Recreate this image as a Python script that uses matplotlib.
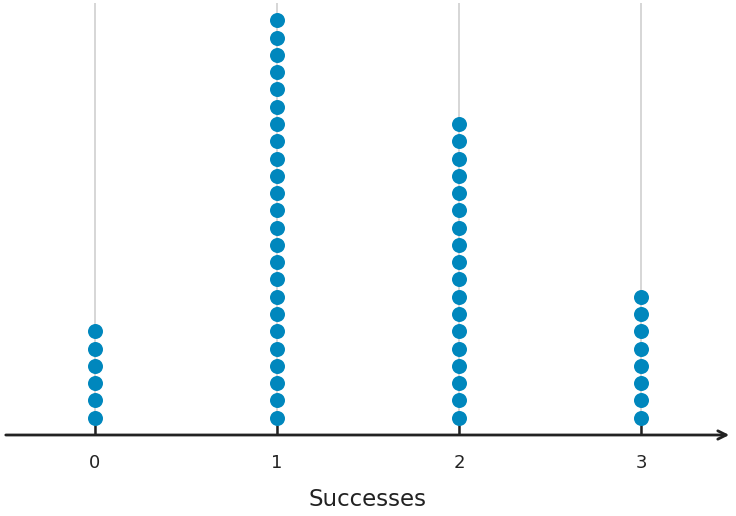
import numpy as np
import matplotlib.pyplot as plt

successes = [0, 1, 2, 3]
counts = [6, 24, 18, 8]
tick_labels = ["0", "1", "2", "3"]

fig = plt.figure(figsize=(7.36, 5.16), dpi=100)
ax = fig.add_axes([3 / 736, 81 / 516, 729 / 736, 432 / 516])

for x, n in zip(successes, counts):
    ys = np.arange(1, n + 1)
    ax.plot([x] * n, ys, 'o', color='#0087bd', markersize=10.8,
            markeredgewidth=0, zorder=3)

ax.set_xlim(-0.505, 3.5)
ax.set_ylim(0, 25)
ax.set_xticks(successes)
ax.set_xticklabels(tick_labels, fontsize=13, color='#222222')
ax.set_yticks([])
ax.tick_params(axis='x', direction='in', length=7, width=1.8,
               color='#222222', pad=14)
ax.grid(axis='x', color='#d0d0d0', linewidth=1.2, zorder=0)
for s in ax.spines.values():
    s.set_visible(False)

ax.annotate('', xy=(1.0, 0), xytext=(0, 0), xycoords='axes fraction',
            arrowprops=dict(arrowstyle='->', color='#222222', lw=2,
                            mutation_scale=15), annotation_clip=False)

ax.set_xlabel("Successes", fontsize=16.5, color='#222222', labelpad=11.5)

fig.savefig("out.png", dpi=100)
